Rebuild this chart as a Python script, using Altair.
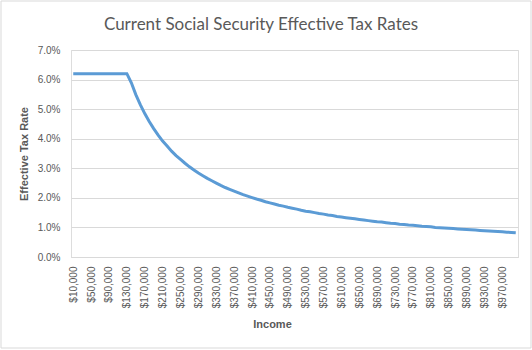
import altair as alt
import pandas as pd

incomes = list(range(10000, 1000001, 10000))
income_labels = ["${:,}".format(v) for v in incomes]

# effective tax rate in percent
rates_pct = [
    6.20, 6.20, 6.20, 6.20, 6.20, 6.20, 6.20, 6.20, 6.20, 6.20,
    6.20, 6.20, 6.20, 5.89, 5.49, 5.15, 4.85, 4.58, 4.34, 4.12,
    3.92, 3.75, 3.58, 3.43, 3.30, 3.17, 3.05, 2.94, 2.84, 2.75,
    2.66, 2.58, 2.50, 2.42, 2.35, 2.29, 2.23, 2.17, 2.11, 2.06,
    2.01, 1.96, 1.92, 1.87, 1.83, 1.79, 1.75, 1.72, 1.68, 1.65,
    1.62, 1.58, 1.55, 1.53, 1.50, 1.47, 1.45, 1.42, 1.40, 1.37,
    1.35, 1.33, 1.31, 1.29, 1.27, 1.25, 1.23, 1.21, 1.19, 1.18,
    1.16, 1.14, 1.13, 1.11, 1.10, 1.08, 1.07, 1.06, 1.04, 1.03,
    1.02, 1.00, 0.99, 0.98, 0.97, 0.96, 0.95, 0.94, 0.93, 0.92,
    0.91, 0.90, 0.89, 0.88, 0.87, 0.86, 0.85, 0.84, 0.83, 0.82,
]

tick_labels = income_labels[::4]
y_ticks = [0.0, 0.01, 0.02, 0.03, 0.04, 0.05, 0.06, 0.07]
title_text = "Current Social Security Effective Tax Rates"

df = pd.DataFrame({
    "Income": income_labels,
    "Rate": [r / 100 for r in rates_pct],
})

FONT = "Lato"
GREY = "#595959"

line = alt.Chart(df).mark_line(color="#5B9BD5", strokeWidth=3).encode(
    x=alt.X("Income:O", sort=income_labels,
            scale=alt.Scale(paddingInner=0, paddingOuter=0),
            axis=alt.Axis(values=tick_labels, labelAngle=-90, ticks=False,
                          domainColor="#D9D9D9", labelPadding=9,
                          labelFontSize=10, labelColor=GREY,
                          title="Income", titleFontSize=11, titleFontWeight="bold",
                          titleColor=GREY, titleX=201, titleY=67,
                          titleBaseline="middle", grid=False)),
    y=alt.Y("Rate:Q", scale=alt.Scale(domain=[0, 0.07], nice=False),
            axis=alt.Axis(values=y_ticks, format=".1%", ticks=False, domain=False,
                          gridColor="#D9D9D9", labelPadding=11,
                          labelFontSize=10, labelColor=GREY,
                          title="Effective Tax Rate", titleFontSize=11,
                          titleFontWeight="bold", titleColor=GREY,
                          titlePadding=8)),
)

first = alt.datum.Income == income_labels[0]

border = alt.Chart(df).mark_rect(filled=False, stroke="#D9D9D9", strokeWidth=1).encode(
    x=alt.value(-70), x2=alt.value(460), y=alt.value(-49), y2=alt.value(298)
).transform_filter(first)

title = alt.Chart(df).mark_text(
    font=FONT, fontSize=17, color=GREY, align="center", baseline="alphabetic"
).encode(
    x=alt.value(190), y=alt.value(-20), text=alt.value(title_text)
).transform_filter(first)

chart = alt.layer(border, line, title).properties(
    width=447,
    height=207,
    autosize=alt.AutoSizeParams(type="none"),
    padding={"left": 71, "top": 50, "right": 14, "bottom": 93},
).configure_view(stroke=None).configure_axis(
    labelFont=FONT, titleFont=FONT
).configure(background="white")

chart.save("out.html", embed_options={"renderer": "svg", "actions": False})
